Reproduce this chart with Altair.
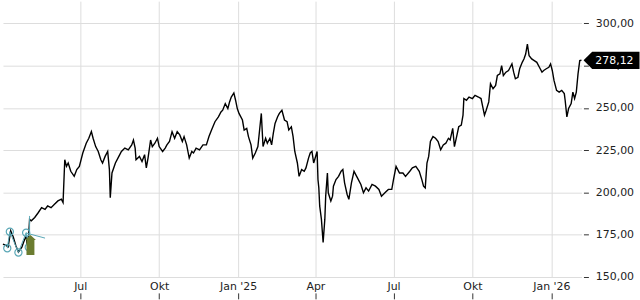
import altair as alt
import pandas as pd
from datetime import date as _d

# ---------------- data ----------------
dates = [
    "2024-04-02", "2024-04-06", "2024-04-08", "2024-04-11", "2024-04-14", "2024-04-17", "2024-04-20",
    "2024-04-24", "2024-04-26", "2024-04-29", "2024-04-30", "2024-05-02", "2024-05-03", "2024-05-05",
    "2024-05-09", "2024-05-13", "2024-05-17", "2024-05-21", "2024-05-24", "2024-05-28", "2024-06-01",
    "2024-06-05", "2024-06-09", "2024-06-11", "2024-06-13", "2024-06-15", "2024-06-17", "2024-06-20",
    "2024-06-24", "2024-06-27", "2024-06-30",
    "2024-07-04", "2024-07-08", "2024-07-11", "2024-07-14", "2024-07-16", "2024-07-19", "2024-07-22",
    "2024-07-25", "2024-07-27", "2024-07-30", "2024-08-02", "2024-08-04", "2024-08-05", "2024-08-07",
    "2024-08-11", "2024-08-15", "2024-08-18", "2024-08-22", "2024-08-26", "2024-08-30", "2024-09-01",
    "2024-09-03", "2024-09-04", "2024-09-08", "2024-09-11", "2024-09-14", "2024-09-16", "2024-09-18",
    "2024-09-21", "2024-09-23", "2024-09-26", "2024-09-29", "2024-10-01",
    "2024-10-05", "2024-10-08", "2024-10-10", "2024-10-13", "2024-10-16", "2024-10-19", "2024-10-22",
    "2024-10-25", "2024-10-28", "2024-10-30", "2024-11-02", "2024-11-05", "2024-11-08", "2024-11-10",
    "2024-11-13", "2024-11-17", "2024-11-21", "2024-11-25", "2024-11-28", "2024-12-01", "2024-12-05",
    "2024-12-09", "2024-12-12", "2024-12-14", "2024-12-17", "2024-12-20", "2024-12-22", "2024-12-24",
    "2024-12-27", "2024-12-29", "2024-12-31",
    "2025-01-02", "2025-01-06", "2025-01-08", "2025-01-11", "2025-01-13", "2025-01-16", "2025-01-18",
    "2025-01-21", "2025-01-24", "2025-01-26", "2025-01-28", "2025-01-30", "2025-02-02", "2025-02-04",
    "2025-02-07", "2025-02-09", "2025-02-11", "2025-02-13", "2025-02-16", "2025-02-18", "2025-02-21",
    "2025-02-24", "2025-02-27", "2025-03-01", "2025-03-04", "2025-03-06", "2025-03-08", "2025-03-11",
    "2025-03-13", "2025-03-16", "2025-03-19", "2025-03-21", "2025-03-24", "2025-03-26", "2025-03-28",
    "2025-03-30",
    "2025-04-03", "2025-04-04", "2025-04-05", "2025-04-06", "2025-04-08", "2025-04-10", "2025-04-12",
    "2025-04-13", "2025-04-15", "2025-04-16", "2025-04-19", "2025-04-21", "2025-04-22", "2025-04-25",
    "2025-04-28", "2025-05-01", "2025-05-03", "2025-05-05", "2025-05-08", "2025-05-10", "2025-05-13",
    "2025-05-16", "2025-05-18", "2025-05-20", "2025-05-24", "2025-05-27", "2025-05-30", "2025-06-02",
    "2025-06-06", "2025-06-10", "2025-06-14", "2025-06-17", "2025-06-21", "2025-06-25", "2025-06-29",
    "2025-07-01", "2025-07-04", "2025-07-08", "2025-07-12", "2025-07-15", "2025-07-20", "2025-07-23",
    "2025-07-27", "2025-07-31", "2025-08-03", "2025-08-05", "2025-08-07", "2025-08-09", "2025-08-11",
    "2025-08-13", "2025-08-16", "2025-08-19", "2025-08-22", "2025-08-25", "2025-08-28", "2025-08-31",
    "2025-09-03", "2025-09-05", "2025-09-08", "2025-09-10", "2025-09-13", "2025-09-15", "2025-09-18",
    "2025-09-20", "2025-09-21", "2025-09-24", "2025-09-27", "2025-10-01",
    "2025-10-04", "2025-10-08", "2025-10-11", "2025-10-13", "2025-10-15", "2025-10-17", "2025-10-20",
    "2025-10-22", "2025-10-25", "2025-10-28", "2025-10-30", "2025-11-02", "2025-11-04", "2025-11-06",
    "2025-11-09", "2025-11-12", "2025-11-14", "2025-11-16", "2025-11-18", "2025-11-20", "2025-11-23",
    "2025-11-25", "2025-11-28", "2025-11-30", "2025-12-02", "2025-12-04", "2025-12-06", "2025-12-09",
    "2025-12-12", "2025-12-15", "2025-12-18", "2025-12-21", "2025-12-23", "2025-12-26", "2025-12-29",
    "2025-12-31",
    "2026-01-02", "2026-01-04", "2026-01-07", "2026-01-10", "2026-01-13", "2026-01-16", "2026-01-17",
    "2026-01-19", "2026-01-21", "2026-01-24", "2026-01-26", "2026-01-28", "2026-01-30", "2026-02-01",
    "2026-02-03", "2026-02-05",
]
prices = [
    169.5, 168.5, 167.8, 177.3, 173.6, 168.5, 164.8,
    167.6, 170.5, 174.4, 169.5, 174.8, 184.0, 183.2,
    185.2, 188.0, 191.0, 190.0, 192.0, 191.0, 193.0,
    195.0, 196.0, 194.0, 219.3, 215.4, 217.4, 212.5,
    209.5, 213.5, 215.4,
    223.3, 229.1, 232.0, 236.0, 232.0, 227.1, 224.2,
    219.3, 217.4, 221.3, 224.2, 213.5, 196.9, 211.5,
    217.4, 221.3, 224.2, 226.2, 225.2, 228.1, 231.0,
    226.2, 219.3, 221.3, 218.3, 222.3, 214.5, 220.3,
    231.0, 227.1, 229.1, 232.0, 227.1,
    224.2, 226.2, 228.1, 230.1, 235.9, 232.0, 235.9,
    234.0, 230.1, 233.0, 228.1, 220.3, 224.2, 223.3,
    226.2, 225.2, 228.1, 228.1, 233.0, 236.9, 241.8,
    244.7, 247.6, 248.6, 252.5, 249.6, 253.5, 256.4,
    258.8, 254.5, 249.6,
    246.7, 242.8, 236.9, 237.9, 233.0, 228.1, 220.3,
    223.3, 227.1, 236.9, 246.7, 227.1, 232.0, 229.1,
    232.0, 228.1, 235.0, 240.8, 244.7, 246.7, 248.6,
    242.8, 241.8, 236.9, 238.8, 233.0, 224.2, 217.4,
    209.5, 213.5, 212.5, 214.5, 220.3, 223.3, 224.2,
    217.4,
    224.2, 207.6, 202.7, 192.0, 184.2, 170.5, 184.2,
    197.8, 211.5, 199.8, 194.9, 197.8, 203.7, 207.6,
    209.5, 212.5, 213.5, 205.7, 198.8, 195.9, 205.7,
    212.5, 210.5, 208.6, 204.7, 199.8, 202.7, 200.8,
    204.7, 203.7, 201.8, 197.8, 199.8, 201.8, 201.8,
    207.6, 215.4, 211.5, 211.5, 209.5, 212.5, 214.5,
    215.4, 212.5, 207.6, 203.7, 202.7, 217.4, 221.3,
    230.1, 233.0, 232.0, 230.1, 225.2, 228.1, 229.1,
    232.0, 231.0, 237.9, 227.1, 234.0, 238.8, 239.8,
    245.7, 255.5, 254.5, 256.4, 255.5,
    257.4, 256.4, 255.5, 250.6, 245.7, 248.6, 253.5,
    264.3, 261.3, 263.3, 269.1, 270.1, 275.0, 269.1,
    271.1, 272.1, 274.0, 276.0, 271.1, 267.2, 268.1,
    273.1, 276.9, 278.9, 281.8, 287.7, 280.8, 278.9,
    277.9, 276.9, 274.0, 271.1, 272.1, 273.1, 274.0,
    276.0,
    272.1, 266.2, 260.3, 259.3, 260.3, 258.4, 254.5,
    244.7, 249.6, 252.5, 259.3, 255.5, 259.3, 270.1,
    277.9, 278.12,
]

# pattern annotation (bottom left)
pattern_dates = ["2024-04-07", "2024-04-10", "2024-04-20", "2024-04-29", "2024-05-02"]
pattern_prices = [167.0, 176.8, 164.5, 176.2, 167.6]
neck_dates = ["2024-04-29", "2024-05-21"]
neck_prices = [176.0, 173.0]
target_dates = ["2024-05-03", "2024-05-03"]
target_prices = [175.4, 186.1]
arrow_dates = ["2024-05-04"]
arrow_prices = [168.9]

# axes
x_start = "2024-04-02"
x_end = "2026-02-05"
tick_dates = ["2024-07-01", "2024-10-01", "2025-01-01", "2025-04-01", "2025-07-01", "2025-10-01", "2026-01-01"]
tick_labels = ["Jul", "Okt", "Jan '25", "Apr", "Jul", "Okt", "Jan '26"]
y_ticks = [150, 175, 200, 225, 250, 275, 300]
y_min, y_max = 150, 313.06

# ---------------- chart ----------------
FONT = "DejaVu Sans"
GRID = "#dddddd"
TEAL = "#5aa7b6"


def dt(s):
    d = _d.fromisoformat(s)
    return alt.DateTime(year=d.year, month=d.month, date=d.day, utc=True)


label_expr = "''"
for d_, l_ in reversed(list(zip(tick_dates, tick_labels))):
    label_expr = f"utcFormat(datum.value, '%Y-%m-%d') == '{d_}' ? \"{l_}\" : ({label_expr})"

x_scale = alt.Scale(type="utc", domain=[dt(x_start), dt(x_end)], nice=False)
y_scale = alt.Scale(domain=[y_min, y_max], nice=False, zero=False)

x_axis = alt.Axis(
    orient="bottom", values=[dt(s) for s in tick_dates], labelExpr=label_expr,
    grid=True, gridColor=GRID, gridWidth=1, domain=False,
    ticks=True, tickSize=22, tickDash=[0, 16, 6, 100], tickColor="#333333", tickWidth=1,
    labelPadding=-18, labelAngle=0, labelFont=FONT, labelFontSize=11, labelColor="#222222",
    title=None,
)
y_axis = alt.Axis(
    orient="right", values=y_ticks,
    labelExpr="replace(format(datum.value, '.2f'), '.', ',')",
    grid=True, gridColor=GRID, gridWidth=1, domain=False,
    ticks=True, tickSize=5, tickColor="#333333", offset=2,
    labelPadding=7, labelFont=FONT, labelFontSize=11, labelColor="#222222",
    title=None,
)

df = pd.DataFrame({"date": dates, "price": prices})

line = alt.Chart(df).mark_line(color="black", strokeWidth=1.4).encode(
    x=alt.X("date:T", scale=x_scale, axis=x_axis),
    y=alt.Y("price:Q", scale=y_scale, axis=y_axis),
)

X = lambda: alt.X("date:T", title=None)
Y = lambda: alt.Y("price:Q", title=None)

seg_df = pd.concat([
    pd.DataFrame({"date": pattern_dates, "price": pattern_prices, "seg": "p"}),
    pd.DataFrame({"date": neck_dates, "price": neck_prices, "seg": "n"}),
    pd.DataFrame({"date": target_dates, "price": target_prices, "seg": "t"}),
])
seg_lines = alt.Chart(seg_df).mark_line(color=TEAL, strokeWidth=1).encode(
    x=X(), y=Y(), detail="seg:N"
)
circles = alt.Chart(pd.DataFrame({"date": pattern_dates, "price": pattern_prices})).mark_point(
    shape="circle", size=52, filled=False, color=TEAL, strokeWidth=1.2, opacity=1
).encode(x=X(), y=Y())

arrow_path = "M0,-1 L0.55,-0.5 L0.4,-0.5 L0.4,1 L-0.4,1 L-0.4,-0.5 L-0.55,-0.5 Z"
arrow = alt.Chart(pd.DataFrame({"date": arrow_dates, "price": arrow_prices})).mark_point(
    shape=arrow_path, size=400, filled=True, color="#6b7c30", opacity=1, strokeWidth=0
).encode(x=X(), y=Y())

last_df = pd.DataFrame({
    "date": [dates[-1]], "price": [prices[-1]],
    "label": [f"{prices[-1]:.2f}".replace(".", ",")],
})
box_path = "M0.07,0 L0.36,-0.29 L1.95,-0.29 L1.95,0.29 L0.36,0.29 Z"
price_box = alt.Chart(last_df).mark_point(
    shape=box_path, size=3600, filled=True, color="black", opacity=1, strokeWidth=0
).encode(x=X(), y=Y())
price_text = alt.Chart(last_df).mark_text(
    align="left", baseline="middle", dx=14, dy=1, color="white", font=FONT, fontSize=11
).encode(x=X(), y=Y(), text="label:N")

chart = alt.layer(line, seg_lines, circles, arrow, price_box, price_text).properties(
    width=583, height=278, padding=0, background="white"
).configure_view(stroke=None)

chart.save("out.html", embed_options={"renderer": "svg", "actions": False})
